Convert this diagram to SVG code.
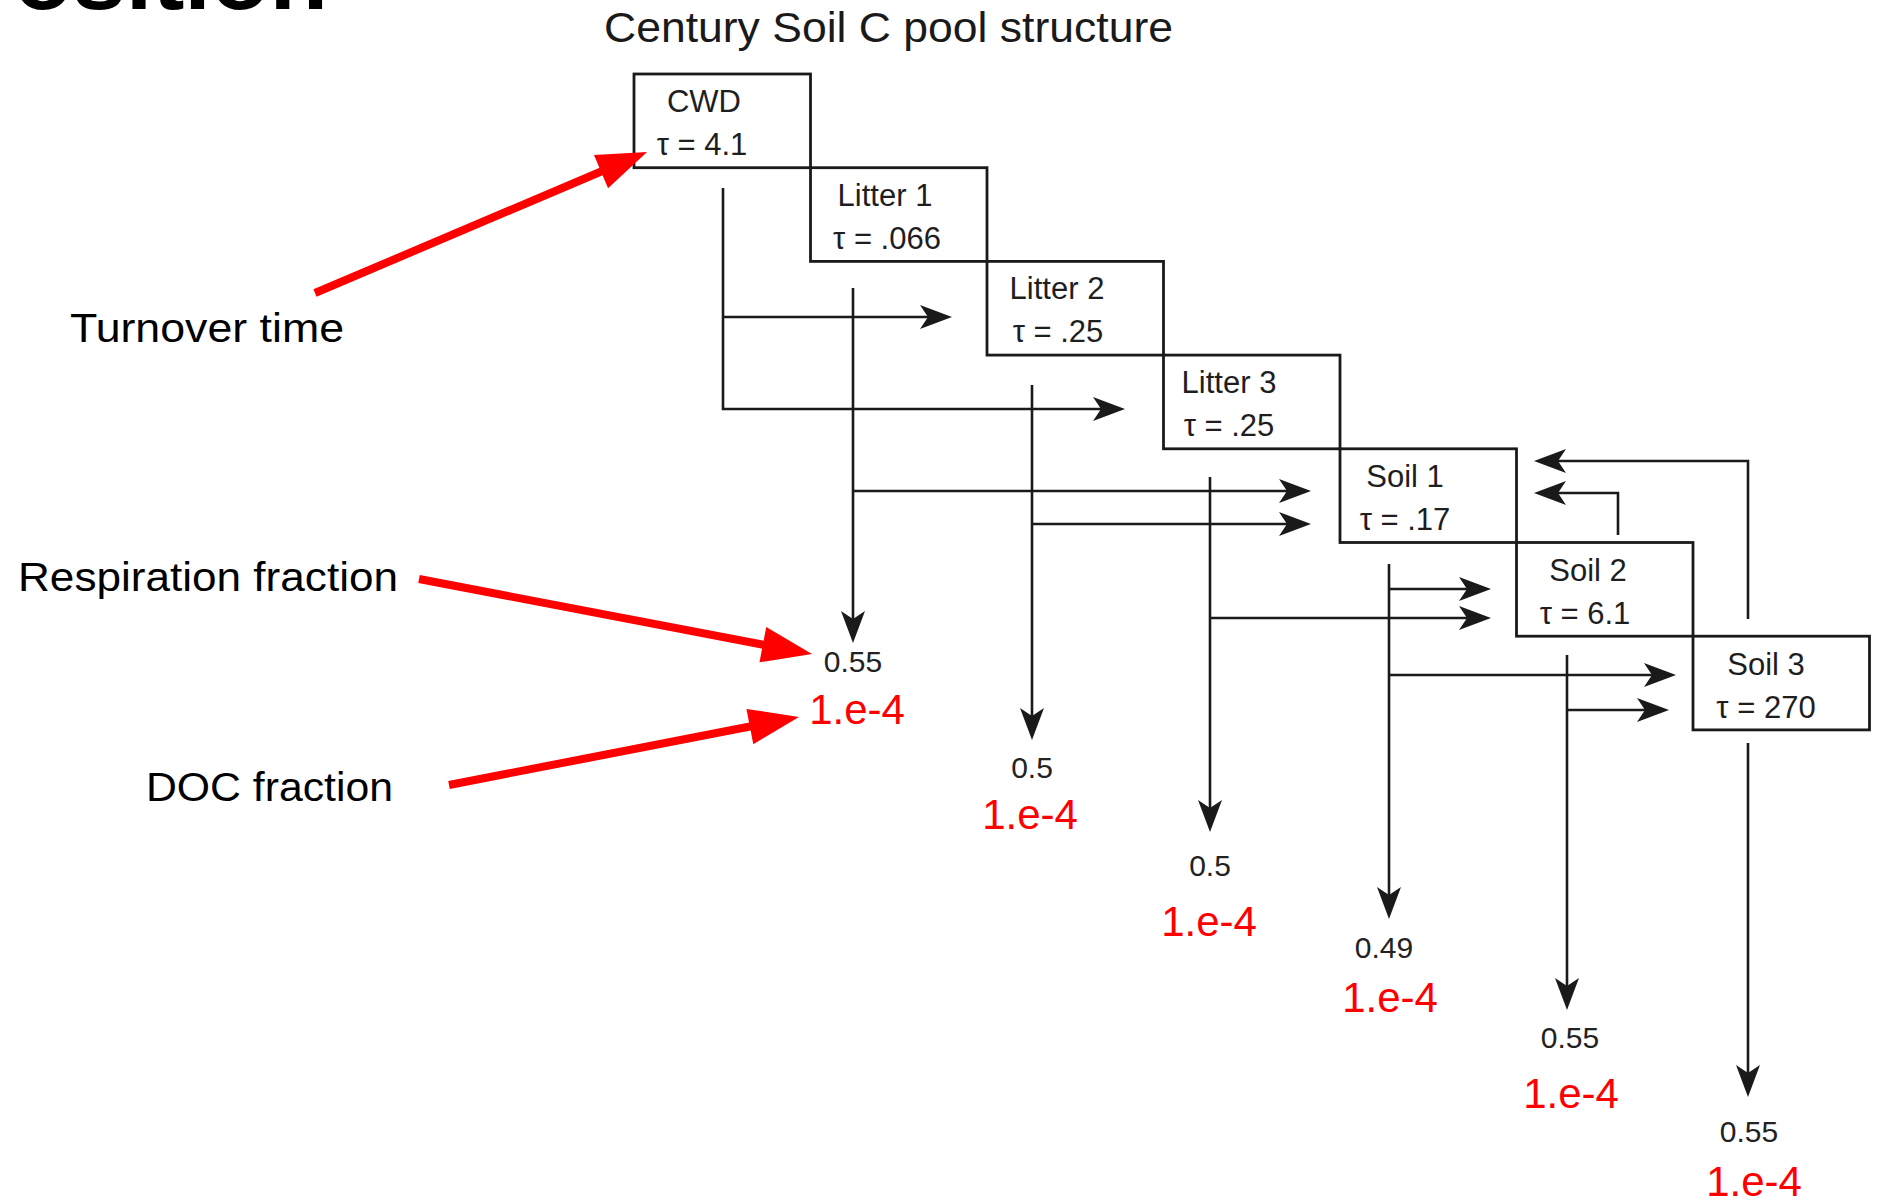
<svg xmlns="http://www.w3.org/2000/svg" width="1886" height="1203" viewBox="0 0 1886 1203">
  <defs>
    <style>
      .box { fill: none; stroke: #1a1a1a; stroke-width: 2.8; }
      .bt { font-family: "Liberation Sans", Arial, sans-serif; font-size: 31px; fill: #1e1e1e; text-anchor: middle; }
      .con { fill: none; stroke: #1a1a1a; stroke-width: 2.6; }
      .red { fill: none; stroke: #ff0000; stroke-width: 8; }
      .resp { font-family: "Liberation Sans", Arial, sans-serif; font-size: 30px; fill: #222; text-anchor: middle; }
      .doc { font-family: "Liberation Sans", Arial, sans-serif; font-size: 42px; fill: #ff0000; text-anchor: middle; }
      .lab { font-family: "Liberation Sans", Arial, sans-serif; font-size: 40px; fill: #000; }
      .title { font-family: "Liberation Sans", Arial, sans-serif; font-size: 42px; fill: #1a1a1a; }
    </style>
    <marker id="ah" markerUnits="userSpaceOnUse" viewBox="-10 -14 36 28" refX="0" refY="0" markerWidth="36" markerHeight="28" orient="auto">
      <path d="M-8,-12 L24,0 L-8,12 L0,0 Z" fill="#1a1a1a"/>
    </marker>
    <marker id="rh" markerUnits="userSpaceOnUse" viewBox="-6 -20 54 40" refX="0" refY="0" markerWidth="54" markerHeight="40" orient="auto">
      <path d="M-4,-18 L46,0 L-4,18 Z" fill="#ff0000"/>
    </marker>
  </defs>
  <rect width="1886" height="1203" fill="#ffffff"/>

  <text x="14" y="9" font-family="'Liberation Sans', Arial, sans-serif" font-size="92" font-weight="bold" fill="#000" textLength="314" lengthAdjust="spacingAndGlyphs">osition</text>
  <text class="title" x="604" y="42" textLength="569" lengthAdjust="spacingAndGlyphs">Century Soil C pool structure</text>

  <g id="node-cwd">
    <rect class="box" x="634" y="74" width="176.5" height="93.7"/>
    <text class="bt" x="704" y="112">CWD</text>
    <text class="bt" x="702" y="155">τ = 4.1</text>
  </g>
  <g id="node-litter1">
    <rect class="box" x="810.5" y="167.7" width="176.5" height="93.7"/>
    <text class="bt" x="885" y="206">Litter 1</text>
    <text class="bt" x="887" y="249">τ = .066</text>
  </g>
  <g id="node-litter2">
    <rect class="box" x="987" y="261.4" width="176.5" height="93.7"/>
    <text class="bt" x="1057" y="299">Litter 2</text>
    <text class="bt" x="1058" y="342">τ = .25</text>
  </g>
  <g id="node-litter3">
    <rect class="box" x="1163.5" y="355.1" width="176.5" height="93.7"/>
    <text class="bt" x="1229" y="393">Litter 3</text>
    <text class="bt" x="1229" y="436">τ = .25</text>
  </g>
  <g id="node-soil1">
    <rect class="box" x="1340" y="448.8" width="176.5" height="93.7"/>
    <text class="bt" x="1405" y="487">Soil 1</text>
    <text class="bt" x="1405" y="530">τ = .17</text>
  </g>
  <g id="node-soil2">
    <rect class="box" x="1516.5" y="542.5" width="176.5" height="93.7"/>
    <text class="bt" x="1588" y="581">Soil 2</text>
    <text class="bt" x="1585" y="624">τ = 6.1</text>
  </g>
  <g id="node-soil3">
    <rect class="box" x="1693" y="636.2" width="176.5" height="93.7"/>
    <text class="bt" x="1766" y="675">Soil 3</text>
    <text class="bt" x="1766" y="718">τ = 270</text>
  </g>

  <g id="connectors">
    <path class="con" d="M723,188 V409 H1101" marker-end="url(#ah)"/>
    <path class="con" d="M723,317 H928" marker-end="url(#ah)"/>
    <path class="con" d="M853,288 V619" marker-end="url(#ah)"/>
    <path class="con" d="M853,491 H1287" marker-end="url(#ah)"/>
    <path class="con" d="M1032,385 V716" marker-end="url(#ah)"/>
    <path class="con" d="M1032,524 H1287" marker-end="url(#ah)"/>
    <path class="con" d="M1210,477 V808" marker-end="url(#ah)"/>
    <path class="con" d="M1210,618 H1467" marker-end="url(#ah)"/>
    <path class="con" d="M1389,564 V895" marker-end="url(#ah)"/>
    <path class="con" d="M1389,589 H1467" marker-end="url(#ah)"/>
    <path class="con" d="M1389,675 H1652" marker-end="url(#ah)"/>
    <path class="con" d="M1567,655 V986" marker-end="url(#ah)"/>
    <path class="con" d="M1567,710 H1645" marker-end="url(#ah)"/>
    <path class="con" d="M1618,535 V493 H1558" marker-end="url(#ah)"/>
    <path class="con" d="M1748,743 V1073" marker-end="url(#ah)"/>
    <path class="con" d="M1748,619 V461 H1558" marker-end="url(#ah)"/>

    <line class="red" x1="315" y1="293" x2="604.7" y2="170" marker-end="url(#rh)"/>
    <line class="red" x1="419" y1="579" x2="766.8" y2="645.4" marker-end="url(#rh)"/>
    <line class="red" x1="449" y1="785" x2="753.8" y2="725.8" marker-end="url(#rh)"/>
  </g>

  <g id="fractions">
    <text class="resp" x="853" y="672">0.55</text>
    <text class="doc" x="857" y="724">1.e-4</text>
    <text class="resp" x="1032" y="778">0.5</text>
    <text class="doc" x="1030" y="829">1.e-4</text>
    <text class="resp" x="1210" y="876">0.5</text>
    <text class="doc" x="1209" y="936">1.e-4</text>
    <text class="resp" x="1384" y="958">0.49</text>
    <text class="doc" x="1390" y="1012">1.e-4</text>
    <text class="resp" x="1570" y="1048">0.55</text>
    <text class="doc" x="1571" y="1108">1.e-4</text>
    <text class="resp" x="1749" y="1142">0.55</text>
    <text class="doc" x="1754" y="1196">1.e-4</text>
  </g>

  <g id="labels">
    <text class="lab" x="70" y="342" textLength="274" lengthAdjust="spacingAndGlyphs">Turnover time</text>
    <text class="lab" x="18" y="591" textLength="380" lengthAdjust="spacingAndGlyphs">Respiration fraction</text>
    <text class="lab" x="146" y="801" textLength="247" lengthAdjust="spacingAndGlyphs">DOC fraction</text>
  </g>
</svg>
